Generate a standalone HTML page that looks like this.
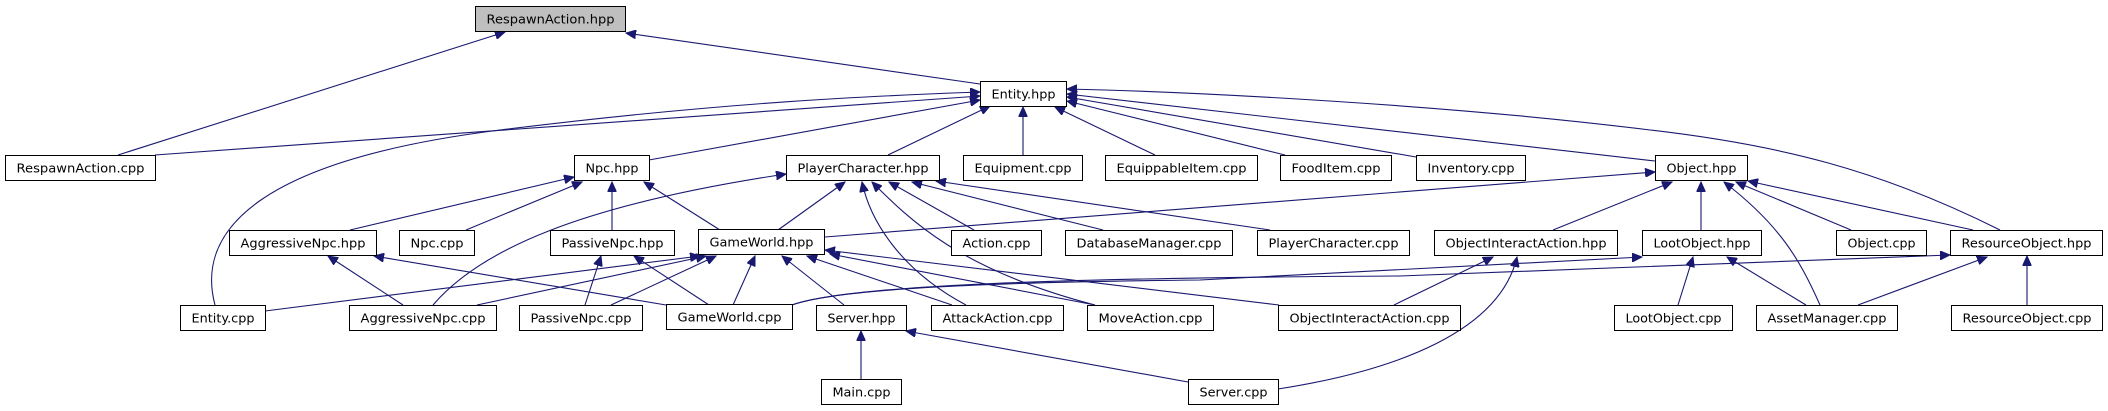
<!DOCTYPE html>
<html><head><meta charset="utf-8"><style>
html,body{margin:0;padding:0;background:#fff;}
svg{display:block;}
text{font-family:"DejaVu Sans","Liberation Sans",sans-serif;font-size:12px;fill:#000;}
.e{fill:none;stroke:#191970;stroke-width:1.1;marker-end:url(#a);}
.n{fill:#fff;stroke:#000;stroke-width:1;}
</style></head><body>
<svg width="2108" height="411" viewBox="0 0 2108 411" xmlns="http://www.w3.org/2000/svg">
<defs><marker id="a" markerUnits="userSpaceOnUse" markerWidth="11" markerHeight="9" refX="10" refY="4.5" orient="auto"><path d="M0,0 L10,4.5 L0,9 z" fill="#191970" stroke="#191970"/></marker></defs>
<g>
<path class="e" d="M118,155 L505,32"/>
<path class="e" d="M980,84 L626,33"/>
<path class="e" d="M155,155 L980,96"/>
<path class="e" d="M215,305 C195,230 260,160 500,130 S900,95 980,92"/>
<path class="e" d="M649,160 L980,100"/>
<path class="e" d="M888,155 L990,106"/>
<path class="e" d="M1023,155 L1023,107"/>
<path class="e" d="M1155,155 L1055,107"/>
<path class="e" d="M1285,155 L1067,101"/>
<path class="e" d="M1416,157 L1067,97"/>
<path class="e" d="M1655,161 L1067,94"/>
<path class="e" d="M2000,230 C1880,170 1780,145 1650,130 C1450,105 1200,92 1067,89"/>
<path class="e" d="M350,230 L574,177"/>
<path class="e" d="M466,230 L582,182"/>
<path class="e" d="M612,230 L612,182"/>
<path class="e" d="M720,230 L644,182"/>
<path class="e" d="M433,305 C480,250 580,205 786,174"/>
<path class="e" d="M778,230 L845,182"/>
<path class="e" d="M966,305 C900,270 870,220 862,182"/>
<path class="e" d="M1095,305 C960,270 910,220 872,182"/>
<path class="e" d="M974,230 L889,182"/>
<path class="e" d="M1103,230 L912,182"/>
<path class="e" d="M1270,230 L936,181"/>
<path class="e" d="M825,237 L1655,172"/>
<path class="e" d="M1553,230 L1672,182"/>
<path class="e" d="M1701,230 L1701,182"/>
<path class="e" d="M1820,305 C1800,260 1780,225 1724,182"/>
<path class="e" d="M1851,230 L1736,182"/>
<path class="e" d="M1973,230 L1748,181"/>
<path class="e" d="M792,305 C840,288 1000,282 1200,280 L1642,257"/>
<path class="e" d="M792,305 C840,288 1000,278 1400,276 L1950,255"/>
<path class="e" d="M1678,305 L1693,257"/>
<path class="e" d="M1806,305 L1727,257"/>
<path class="e" d="M1858,305 L1987,257"/>
<path class="e" d="M2027,305 L2027,256"/>
<path class="e" d="M1394,305 L1493,257"/>
<path class="e" d="M1278,389 C1400,370 1500,330 1517,257"/>
<path class="e" d="M403,305 L328,256"/>
<path class="e" d="M666,305 L374,256"/>
<path class="e" d="M585,305 L601,256"/>
<path class="e" d="M709,305 L634,256"/>
<path class="e" d="M265,311 L700,256"/>
<path class="e" d="M477,305 L706,256"/>
<path class="e" d="M611,305 L716,256"/>
<path class="e" d="M733,305 L755,256"/>
<path class="e" d="M844,305 L782,256"/>
<path class="e" d="M952,305 L807,256"/>
<path class="e" d="M1095,305 L830,254"/>
<path class="e" d="M1279,305 L825,250"/>
<path class="e" d="M861,379 L861,331"/>
<path class="e" d="M1188,382 L906,331"/>
</g>
<g>
<rect x="475.5" y="6.5" width="150" height="25" fill="#bfbfbf" stroke="#000"/><text x="550.5" y="23.5" text-anchor="middle" textLength="128" lengthAdjust="spacingAndGlyphs">RespawnAction.hpp</text>
<rect class="n" x="980.5" y="81.5" width="86" height="25"/><text x="1023.5" y="98.5" text-anchor="middle" textLength="64" lengthAdjust="spacingAndGlyphs">Entity.hpp</text>
<rect class="n" x="5.5" y="155.5" width="150" height="25"/><text x="80.5" y="172.5" text-anchor="middle" textLength="128" lengthAdjust="spacingAndGlyphs">RespawnAction.cpp</text>
<rect class="n" x="574.5" y="155.5" width="75" height="25"/><text x="612" y="172.5" text-anchor="middle" textLength="53" lengthAdjust="spacingAndGlyphs">Npc.hpp</text>
<rect class="n" x="786.5" y="155.5" width="153" height="25"/><text x="863" y="172.5" text-anchor="middle" textLength="131" lengthAdjust="spacingAndGlyphs">PlayerCharacter.hpp</text>
<rect class="n" x="963.5" y="155.5" width="119" height="25"/><text x="1023" y="172.5" text-anchor="middle" textLength="97" lengthAdjust="spacingAndGlyphs">Equipment.cpp</text>
<rect class="n" x="1105.5" y="155.5" width="152" height="25"/><text x="1181.5" y="172.5" text-anchor="middle" textLength="130" lengthAdjust="spacingAndGlyphs">EquippableItem.cpp</text>
<rect class="n" x="1280.5" y="155.5" width="111" height="25"/><text x="1336" y="172.5" text-anchor="middle" textLength="89" lengthAdjust="spacingAndGlyphs">FoodItem.cpp</text>
<rect class="n" x="1416.5" y="155.5" width="109" height="25"/><text x="1471" y="172.5" text-anchor="middle" textLength="87" lengthAdjust="spacingAndGlyphs">Inventory.cpp</text>
<rect class="n" x="1655.5" y="155.5" width="92" height="25"/><text x="1701.5" y="172.5" text-anchor="middle" textLength="70" lengthAdjust="spacingAndGlyphs">Object.hpp</text>
<rect class="n" x="229.5" y="230.5" width="147" height="25"/><text x="303" y="247.5" text-anchor="middle" textLength="125" lengthAdjust="spacingAndGlyphs">AggressiveNpc.hpp</text>
<rect class="n" x="399.5" y="230.5" width="75" height="25"/><text x="437" y="247.5" text-anchor="middle" textLength="53" lengthAdjust="spacingAndGlyphs">Npc.cpp</text>
<rect class="n" x="550.5" y="230.5" width="124" height="25"/><text x="612.5" y="247.5" text-anchor="middle" textLength="102" lengthAdjust="spacingAndGlyphs">PassiveNpc.hpp</text>
<rect class="n" x="698.5" y="229.5" width="126" height="25"/><text x="761.5" y="246.5" text-anchor="middle" textLength="104" lengthAdjust="spacingAndGlyphs">GameWorld.hpp</text>
<rect class="n" x="951.5" y="230.5" width="90" height="25"/><text x="996.5" y="247.5" text-anchor="middle" textLength="68" lengthAdjust="spacingAndGlyphs">Action.cpp</text>
<rect class="n" x="1065.5" y="230.5" width="167" height="25"/><text x="1149" y="247.5" text-anchor="middle" textLength="145" lengthAdjust="spacingAndGlyphs">DatabaseManager.cpp</text>
<rect class="n" x="1257.5" y="230.5" width="152" height="25"/><text x="1333.5" y="247.5" text-anchor="middle" textLength="130" lengthAdjust="spacingAndGlyphs">PlayerCharacter.cpp</text>
<rect class="n" x="1434.5" y="230.5" width="183" height="25"/><text x="1526" y="247.5" text-anchor="middle" textLength="161" lengthAdjust="spacingAndGlyphs">ObjectInteractAction.hpp</text>
<rect class="n" x="1642.5" y="230.5" width="119" height="25"/><text x="1702" y="247.5" text-anchor="middle" textLength="97" lengthAdjust="spacingAndGlyphs">LootObject.hpp</text>
<rect class="n" x="1836.5" y="230.5" width="90" height="25"/><text x="1881.5" y="247.5" text-anchor="middle" textLength="68" lengthAdjust="spacingAndGlyphs">Object.cpp</text>
<rect class="n" x="1950.5" y="230.5" width="152" height="25"/><text x="2026.5" y="247.5" text-anchor="middle" textLength="130" lengthAdjust="spacingAndGlyphs">ResourceObject.hpp</text>
<rect class="n" x="180.5" y="305.5" width="85" height="25"/><text x="223" y="322.5" text-anchor="middle" textLength="63" lengthAdjust="spacingAndGlyphs">Entity.cpp</text>
<rect class="n" x="349.5" y="305.5" width="147" height="25"/><text x="423" y="322.5" text-anchor="middle" textLength="125" lengthAdjust="spacingAndGlyphs">AggressiveNpc.cpp</text>
<rect class="n" x="519.5" y="305.5" width="123" height="25"/><text x="581" y="322.5" text-anchor="middle" textLength="101" lengthAdjust="spacingAndGlyphs">PassiveNpc.cpp</text>
<rect class="n" x="666.5" y="304.5" width="126" height="25"/><text x="729.5" y="321.5" text-anchor="middle" textLength="104" lengthAdjust="spacingAndGlyphs">GameWorld.cpp</text>
<rect class="n" x="816.5" y="305.5" width="90" height="25"/><text x="861.5" y="322.5" text-anchor="middle" textLength="68" lengthAdjust="spacingAndGlyphs">Server.hpp</text>
<rect class="n" x="931.5" y="305.5" width="132" height="25"/><text x="997.5" y="322.5" text-anchor="middle" textLength="110" lengthAdjust="spacingAndGlyphs">AttackAction.cpp</text>
<rect class="n" x="1087.5" y="305.5" width="126" height="25"/><text x="1150.5" y="322.5" text-anchor="middle" textLength="104" lengthAdjust="spacingAndGlyphs">MoveAction.cpp</text>
<rect class="n" x="1278.5" y="305.5" width="182" height="25"/><text x="1369.5" y="322.5" text-anchor="middle" textLength="160" lengthAdjust="spacingAndGlyphs">ObjectInteractAction.cpp</text>
<rect class="n" x="1614.5" y="305.5" width="118" height="25"/><text x="1673.5" y="322.5" text-anchor="middle" textLength="96" lengthAdjust="spacingAndGlyphs">LootObject.cpp</text>
<rect class="n" x="1756.5" y="305.5" width="141" height="25"/><text x="1827" y="322.5" text-anchor="middle" textLength="119" lengthAdjust="spacingAndGlyphs">AssetManager.cpp</text>
<rect class="n" x="1951.5" y="305.5" width="151" height="25"/><text x="2027" y="322.5" text-anchor="middle" textLength="129" lengthAdjust="spacingAndGlyphs">ResourceObject.cpp</text>
<rect class="n" x="821.5" y="379.5" width="80" height="25"/><text x="861.5" y="396.5" text-anchor="middle" textLength="58" lengthAdjust="spacingAndGlyphs">Main.cpp</text>
<rect class="n" x="1188.5" y="379.5" width="90" height="25"/><text x="1233.5" y="396.5" text-anchor="middle" textLength="68" lengthAdjust="spacingAndGlyphs">Server.cpp</text>
</g>
</svg>
</body></html>
